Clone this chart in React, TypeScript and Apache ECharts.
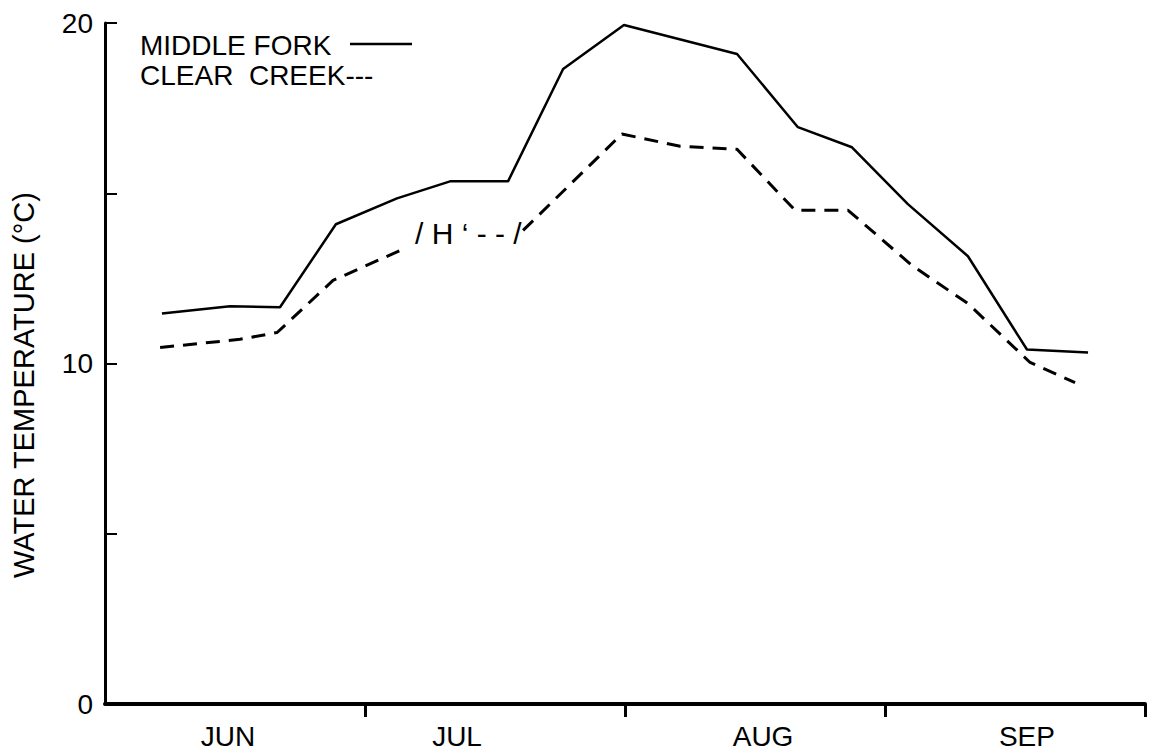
import React, { useEffect, useRef } from "react";
import * as echarts from "echarts";

// x values are in month units from 1 June (0) to 30 September (4)
const middleForkX = [0.219, 0.481, 0.673, 0.888, 1.123, 1.327, 1.55, 1.762, 1.996, 2.431, 2.665, 2.873, 3.088, 3.319, 3.546, 3.781];
const middleForkY = [11.47, 11.68, 11.65, 14.09, 14.85, 15.35, 15.35, 18.65, 19.94, 19.09, 16.94, 16.35, 14.68, 13.15, 10.41, 10.32];

const clearCreekX = [0.212, 0.519, 0.662, 0.877, 1.162, 1.4, 1.608, 1.988, 2.212, 2.431, 2.654, 2.858, 3.104, 3.319, 3.558, 3.731];
const clearCreekY = [10.47, 10.71, 10.91, 12.44, 13.41, null, 13.91, 16.74, 16.38, 16.29, 14.5, 14.5, 12.88, 11.76, 10.03, 9.44];

const monthLabels = ["JUN", "JUL", "AUG", "SEP"];
const monthLabelPos = [0.473, 1.354, 2.531, 3.546];
const monthTicks = [1, 2, 3, 4];

const legendNames = ["MIDDLE FORK", "CLEAR  CREEK---"];
const annotationText = "/ H \u2018 - - /";
const yTitle = "WATER TEMPERATURE (\u00B0C)";

const FONT = "'Liberation Sans', Arial, Helvetica, sans-serif";

export default function App() {
  const ref = useRef<HTMLDivElement>(null);

  useEffect(() => {
    if (!ref.current) return;
    const chart = echarts.init(ref.current, undefined, { renderer: "svg" });
    const solid = middleForkX.map((x, i) => [x, middleForkY[i]]);
    const dashed = clearCreekX.map((x, i) => [x, clearCreekY[i] === null ? "-" : clearCreekY[i]]);

    chart.setOption({
      animation: false,
      backgroundColor: "#ffffff",
      textStyle: { fontFamily: FONT, color: "#000" },
      grid: { left: 105, right: 5, top: 23, bottom: 46, containLabel: false },
      xAxis: {
        type: "value",
        min: 0,
        max: 4,
        interval: 1,
        splitLine: { show: false },
        axisLine: { show: true, lineStyle: { color: "#000", width: 4 } },
        axisTick: {
          show: true,
          inside: false,
          length: 13,
          customValues: monthTicks,
          lineStyle: { color: "#000", width: 3 },
        },
        axisLabel: {
          show: true,
          customValues: monthLabelPos,
          margin: 18,
          fontSize: 28,
          color: "#000",
          fontFamily: FONT,
          formatter: (v: number) => {
            let best = 0;
            monthLabelPos.forEach((p, i) => {
              if (Math.abs(p - v) < Math.abs(monthLabelPos[best] - v)) best = i;
            });
            return monthLabels[best];
          },
        },
      },
      yAxis: {
        type: "value",
        min: 0,
        max: 20,
        interval: 5,
        splitLine: { show: false },
        axisLine: { show: true, lineStyle: { color: "#000", width: 3 } },
        axisTick: { show: true, inside: true, length: 12, lineStyle: { color: "#000", width: 2 } },
        axisLabel: {
          show: true,
          margin: 12,
          fontSize: 28,
          color: "#000",
          fontFamily: FONT,
          formatter: (v: number) => (v % 10 === 0 ? String(v) : ""),
        },
      },
      series: [
        {
          name: legendNames[0],
          type: "line",
          data: solid,
          symbol: "none",
          lineStyle: { color: "#000", width: 2.5 },
        },
        {
          name: legendNames[1],
          type: "line",
          data: dashed,
          symbol: "none",
          connectNulls: false,
          lineStyle: { color: "#000", width: 3, type: [14, 9] },
        },
      ],
      graphic: [
        {
          type: "text",
          x: 140,
          y: 45,
          style: { text: legendNames[0], fontSize: 28, fontFamily: FONT, fill: "#000", verticalAlign: "middle", align: "left" },
        },
        {
          type: "line",
          shape: { x1: 350, y1: 44, x2: 412, y2: 44 },
          style: { stroke: "#000", lineWidth: 2.5 },
        },
        {
          type: "text",
          x: 140,
          y: 75,
          style: { text: legendNames[1], fontSize: 28, fontFamily: FONT, fill: "#000", verticalAlign: "middle", align: "left" },
        },
        {
          type: "text",
          x: 415,
          y: 233,
          style: { text: annotationText, fontSize: 30, fontFamily: FONT, fill: "#000", verticalAlign: "middle", align: "left" },
        },
        {
          type: "text",
          x: 24,
          y: 385,
          rotation: Math.PI / 2,
          style: { text: yTitle, fontSize: 29, fontFamily: FONT, fill: "#000", verticalAlign: "middle", align: "center" },
        },
      ],
    });
    return () => chart.dispose();
  }, []);

  return (
    <div
      ref={ref}
      style={{ position: "fixed", left: 0, top: 0, width: 1150, height: 750, background: "#fff" }}
    />
  );
}
